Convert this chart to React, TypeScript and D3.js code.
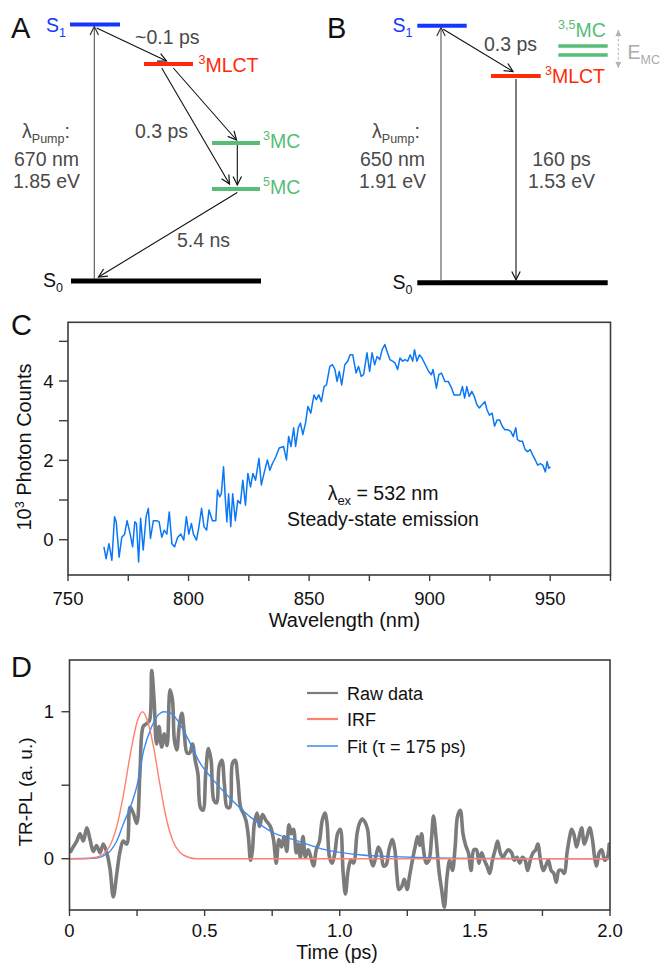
import React from "react";
import * as d3 from "d3";

// ---------- Panel C data: steady-state emission ----------
const wavelengthsC = [
  764.9, 765.8, 767, 768.2, 769.3, 770, 771.2, 772.3, 773.5, 774.5, 775.8, 776.8, 777.7, 778.4, 779.3, 780.1,
  781.2, 782.4, 783.3, 784.2, 785.4, 786.8, 787.8, 788.9, 789.9, 791, 792, 793.1, 794.2, 795.5, 796.8, 798,
  799.1, 800.1, 801.2, 802, 803.3, 804.3, 805.4, 806.4, 807.5, 808.5, 809.9, 811.3, 812, 812.9, 813.6, 814.5,
  815.2, 815.9, 816.6, 817.5, 818.3, 819.4, 820.4, 821.5, 822.5, 823.6, 824.6, 825.7, 826.7, 827.8, 829.2, 830.2,
  831.3, 832.7, 833.7, 834.8, 836.2, 837.6, 839.4, 840.6, 841.5, 842.5, 843.6, 844.4, 845.5, 846.4, 847.4, 848.5,
  849.5, 850.7, 852, 853, 854, 855.1, 856.2, 857.2, 858.6, 859.7, 860.7, 861.6, 862.5, 863.5, 864.8, 866,
  867, 868.1, 869.5, 870.5, 871.6, 872.6, 874, 875.1, 876.1, 877.2, 878.2, 879.3, 880.3, 881.4, 882.5, 883.5,
  884.6, 885.6, 886.7, 887.7, 888.8, 889.8, 890.9, 891.9, 893, 893.7, 894.7, 895.8, 896.8, 898.2, 899.6, 900.7,
  901.4, 902.8, 903.8, 904.9, 906.3, 907.7, 909.1, 910.1, 911.5, 912.6, 913.6, 914.5, 915.4, 916.4, 917.5, 918.5,
  919.6, 920.6, 921.7, 922.9, 923.8, 924.8, 925.9, 926.9, 928, 929, 930.1, 931.2, 932.6, 933.6, 934.7, 935.7,
  936.4, 937.5, 938.5, 939.6, 940.6, 941.7, 942.7, 943.8, 944.8, 945.9, 946.9, 948, 948.7, 949.4, 950.1,
];
const countsC = [
  -0.18, -0.48, -0.1, -0.52, 0.58, 0.45, -0.44, 0.06, 0.14, 0.48, 0.14, -0.18, 0.45, 0.41, -0.56, 0.54,
  -0.26, 0.58, 0.79, 0.03, 0.48, 0.48, 0.45, 0.06, 0.24, 0.14, 0.7, -0.1, -0.18, 0.06, 0.14, -0.01,
  0.58, 0.14, 0.41, 0.14, -0.01, 0.33, 0.79, 0.33, 0.24, 0.75, 0.48, 0.48, 1.25, 1.08, 1.16, 1.84,
  1.08, 0.45, 1.16, 0.33, 1.16, 0.48, 0.99, 0.91, 1.5, 0.87, 1.67, 1.33, 1.67, 1.5, 2.05, 1.38,
  1.67, 2.01, 1.75, 1.92, 2.09, 2.31, 2.35, 2.01, 2.6, 2.35, 2.82, 2.35, 2.82, 2.94, 2.65, 2.94,
  3.36, 3.19, 3.65, 3.53, 3.65, 3.48, 3.86, 3.9, 4.37, 4.41, 4.29, 3.99, 4.24, 3.9, 4.41, 4.5,
  4.66, 4.66, 4.2, 4.37, 4.12, 4.16, 4.71, 4.24, 4.71, 4.41, 4.62, 4.54, 4.79, 4.92, 4.71, 4.54,
  4.5, 4.46, 4.29, 4.58, 4.5, 4.54, 4.5, 4.66, 4.5, 4.79, 4.5, 4.66, 4.58, 4.41, 4.24, 4.16,
  4.29, 3.82, 4.16, 4.2, 3.99, 3.99, 3.82, 3.65, 3.65, 3.65, 3.86, 3.57, 3.86, 3.61, 3.74, 3.61,
  3.4, 3.32, 3.4, 3.48, 3.27, 3.14, 3.19, 2.86, 3.02, 3.02, 2.86, 2.77, 2.77, 2.73, 2.6, 2.82,
  2.52, 2.48, 2.48, 2.27, 2.22, 2.27, 2.14, 2.01, 1.88, 1.92, 1.88, 1.71, 1.97, 1.8, 1.84,
];
const xTicksC = [750, 775, 800, 825, 850, 875, 900, 925, 950, 975];
const xLabelsC = [750, 800, 850, 900, 950];
const yTicksC = [0, 1, 2, 3, 4, 5];
const yLabelsC = [0, 2, 4];

// ---------- Panel D data: TR-PL ----------
const timesD = [
  0.005, 0.014, 0.027, 0.039, 0.051, 0.064, 0.076, 0.088, 0.1, 0.113, 0.125, 0.138, 0.15, 0.162, 0.175, 0.187,
  0.199, 0.212, 0.224, 0.236, 0.249, 0.261, 0.273, 0.286, 0.296, 0.304, 0.313, 0.322, 0.331, 0.341, 0.351, 0.361,
  0.372, 0.381, 0.388, 0.397, 0.406, 0.416, 0.425, 0.435, 0.445, 0.455, 0.465, 0.475, 0.484, 0.494, 0.504, 0.514,
  0.524, 0.534, 0.544, 0.554, 0.564, 0.573, 0.583, 0.593, 0.603, 0.613, 0.623, 0.633, 0.643, 0.653, 0.662, 0.67,
  0.677, 0.684, 0.694, 0.704, 0.714, 0.727, 0.743, 0.755, 0.765, 0.775, 0.785, 0.794, 0.804, 0.812, 0.821, 0.829,
  0.839, 0.846, 0.854, 0.864, 0.873, 0.883, 0.893, 0.903, 0.913, 0.925, 0.935, 0.945, 0.953, 0.962, 0.972, 0.982,
  0.992, 1.002, 1.012, 1.021, 1.031, 1.041, 1.051, 1.064, 1.073, 1.083, 1.093, 1.103, 1.113, 1.123, 1.133, 1.143,
  1.153, 1.162, 1.172, 1.182, 1.194, 1.204, 1.212, 1.219, 1.229, 1.239, 1.249, 1.258, 1.269, 1.279, 1.288, 1.296,
  1.303, 1.31, 1.32, 1.33, 1.34, 1.347, 1.357, 1.367, 1.377, 1.387, 1.397, 1.407, 1.417, 1.427, 1.436, 1.446,
  1.456, 1.466, 1.476, 1.486, 1.496, 1.506, 1.515, 1.525, 1.535, 1.545, 1.555, 1.565, 1.575, 1.584, 1.594, 1.604,
  1.614, 1.624, 1.636, 1.646, 1.656, 1.666, 1.676, 1.686, 1.695, 1.705, 1.715, 1.725, 1.733, 1.743, 1.753, 1.762,
  1.772, 1.782, 1.792, 1.801, 1.811, 1.821, 1.831, 1.841, 1.851, 1.858, 1.866, 1.876, 1.886, 1.895, 1.905, 1.915,
  1.925, 1.935, 1.943, 1.95, 1.96, 1.97, 1.98, 1.99, 1.997,
];
const rawD = [
  0.05, 0.08, 0.12, 0.17, 0.12, 0.21, 0.13, 0.05, 0.09, 0.04, 0.1, 0.04, -0.07, -0.26, -0.1, 0.05,
  0.12, 0.1, 0.35, 0.31, 0.24, 0.6, 0.9, 0.92, 0.94, 1.28, 1.08, 0.78, 0.9, 0.76, 0.85, 0.77,
  1.15, 1.08, 0.81, 0.74, 0.9, 0.99, 0.85, 0.72, 0.72, 0.78, 0.67, 0.58, 0.35, 0.33, 0.58, 0.75,
  0.67, 0.4, 0.38, 0.63, 0.67, 0.51, 0.35, 0.35, 0.65, 0.67, 0.54, 0.35, 0.31, 0.26, 0.15, -0.01,
  0.06, 0.24, 0.31, 0.22, 0.3, 0.26, 0.22, 0.13, -0.03, 0.13, 0.08, 0.15, 0.05, 0.23, 0.17, 0.2,
  0.04, 0.1, 0.01, 0.15, 0.01, 0.06, 0.01, -0.05, 0.06, 0.12, 0.26, 0.31, 0.24, 0.01, -0.03, 0.04,
  0.17, 0.2, -0.08, -0.24, -0.08, -0.01, -0.03, 0.17, 0.24, 0.27, 0.25, 0.2, 0.01, -0.05, 0.01, 0.08,
  0.04, -0.05, -0.04, 0.06, 0.13, 0.06, -0.12, -0.21, -0.19, -0.14, -0.21, -0.12, -0.01, 0.08, 0.15, 0.09,
  0.17, 0.06, -0.03, -0.01, 0.15, 0.29, 0.13, -0.08, -0.21, -0.33, -0.12, -0.01, -0.08, 0.08, 0.29, 0.33,
  0.17, 0.09, 0.04, -0.08, 0.06, 0.06, -0.03, 0.04, -0.01, -0.05, -0.1, -0.01, 0.06, 0.12, 0.04, 0.01,
  0.04, 0.06, 0.04, -0.01, 0.01, -0.03, 0.01, -0.01, -0.08, -0.01, 0.04, 0.06, 0.1, -0.01, -0.08, -0.05,
  -0.01, -0.08, -0.1, -0.16, -0.08, -0.08, -0.1, 0.04, 0.15, 0.2, 0.17, 0.08, 0.15, 0.21, 0.1, 0.15,
  0.21, 0.13, 0.01, -0.05, 0.04, 0.06, -0.01, 0.01, 0.1,
];
const timesIRF = [0, 0.05, 0.1, 0.125, 0.15, 0.175, 0.2, 0.225, 0.25, 0.27, 0.29, 0.31, 0.335, 0.36, 0.385, 0.41, 0.44, 0.47, 0.5, 1.0, 1.5, 2.0];
const valuesIRF = [0, 0, 0.01, 0.03, 0.09, 0.22, 0.44, 0.71, 0.93, 1.0, 0.93, 0.77, 0.5, 0.26, 0.11, 0.04, 0.01, 0, 0, 0, 0, 0];
const timesFit = [0, 0.05, 0.1, 0.125, 0.15, 0.175, 0.2, 0.225, 0.25, 0.275, 0.3, 0.325, 0.35, 0.375, 0.4, 0.44, 0.48, 0.53, 0.59, 0.64, 0.7, 0.75, 0.83, 0.95, 1.08, 1.2, 1.32, 1.5, 2.0];
const valuesFit = [0, 0.001, 0.005, 0.02, 0.05, 0.12, 0.24, 0.35, 0.5, 0.74, 0.88, 0.97, 1.0, 0.99, 0.94, 0.81, 0.66, 0.54, 0.42, 0.33, 0.24, 0.18, 0.13, 0.06, 0.025, 0.014, 0.007, 0.002, 0];
const xTicksD = [0, 0.25, 0.5, 0.75, 1.0, 1.25, 1.5, 1.75, 2.0];
const xLabelsD = ["0", "0.5", "1.0", "1.5", "2.0"];
const xLabelValsD = [0, 0.5, 1.0, 1.5, 2.0];
const yTicksD = [0, 0.5, 1];
const yLabelsD = [0, 1];
const legendD = ["Raw data", "IRF", "Fit (τ = 175 ps)"];

const FONT = "'Liberation Sans', Arial, Helvetica, sans-serif";
const BLUE = "#1436ff";
const RED = "#ff2a0a";
const GREEN = "#57bd78";
const GREY_TXT = "#4a4a4a";
const AX = "#3c3c3c";
const C_LINE = "#0a78f5";
const RAW = "#7b7b7b";
const IRF_C = "#ff8070";
const FIT_C = "#3d8af0";

function Superscripted({ x, y, sup, main, color, size = 19.5, supSize = 12.5, supDy = -8 }) {
  return (
    <text x={x} y={y} fill={color} fontSize={size} fontFamily={FONT}>
      <tspan fontSize={supSize} dy={supDy}>{sup}</tspan>
      <tspan dy={-supDy}>{main}</tspan>
    </text>
  );
}

function Subscripted({ x, y, main, sub, color, size = 19.5, subSize = 12.5, subDy = 5, anchor = "start", tail = "" }) {
  return (
    <text x={x} y={y} fill={color} fontSize={size} fontFamily={FONT} textAnchor={anchor}>
      <tspan>{main}</tspan>
      <tspan fontSize={subSize} dy={subDy}>{sub}</tspan>
      {tail ? <tspan dy={-subDy}>{tail}</tspan> : null}
    </text>
  );
}

function Bar({ x1, x2, y, color, w = 4 }) {
  return <line x1={x1} x2={x2} y1={y} y2={y} stroke={color} strokeWidth={w} />;
}

function Arrow({ x1, y1, x2, y2, color = "#111", marker = "ah" }) {
  return <line x1={x1} y1={y1} x2={x2} y2={y2} stroke={color} strokeWidth={1.1} markerEnd={`url(#${marker})`} />;
}

function PanelA() {
  return (
    <g>
      <text x={11} y={38} fontSize={29} fontFamily={FONT} fill="#111">A</text>
      <Subscripted x={46} y={31.5} main="S" sub="1" color={BLUE} />
      <Bar x1={70} x2={120} y={24.5} color={BLUE} />
      <Bar x1={144} x2={193} y={64} color={RED} />
      <Superscripted x={198.5} y={72} sup="3" main="MLCT" color={RED} />
      <Bar x1={212} x2={260} y={143} color={GREEN} />
      <Superscripted x={263} y={148} sup="3" main="MC" color={GREEN} />
      <Bar x1={212} x2={260} y={189} color={GREEN} />
      <Superscripted x={263} y={194} sup="5" main="MC" color={GREEN} />
      <Bar x1={71} x2={261} y={281} color="#000" w={5} />
      <Subscripted x={43} y={287} main="S" sub="0" color="#111" />

      <Arrow x1={94.3} y1={279} x2={94.3} y2={26.5} color="#555" marker="ahg" />
      <Arrow x1={96.7} y1={28} x2={166.5} y2={61} />
      <Arrow x1={161.7} y1={68} x2={229.5} y2={184} />
      <Arrow x1={173.3} y1={68} x2={236.5} y2={140} />
      <Arrow x1={237.3} y1={145} x2={237.3} y2={185} />
      <Arrow x1={237.3} y1={192.5} x2={98.5} y2={277} />

      <text x={135} y={43.5} fontSize={19.5} fontFamily={FONT} fill={GREY_TXT}>~0.1 ps</text>
      <text x={135} y={137.5} fontSize={19.5} fontFamily={FONT} fill={GREY_TXT}>0.3 ps</text>
      <text x={177} y={247} fontSize={19.5} fontFamily={FONT} fill={GREY_TXT}>5.4 ns</text>

      <Subscripted x={46} y={138} main="λ" sub="Pump" tail=":" color={GREY_TXT} anchor="middle" />
      <text x={46.5} y={165.5} fontSize={19.5} fontFamily={FONT} fill={GREY_TXT} textAnchor="middle">670 nm</text>
      <text x={46.5} y={188} fontSize={19.5} fontFamily={FONT} fill={GREY_TXT} textAnchor="middle">1.85 eV</text>
    </g>
  );
}

function PanelB() {
  return (
    <g>
      <text x={327} y={38} fontSize={29} fontFamily={FONT} fill="#111">B</text>
      <Subscripted x={392.5} y={32} main="S" sub="1" color={BLUE} />
      <Bar x1={417.3} x2={466.7} y={25.7} color={BLUE} />
      <Bar x1={491} x2={540.7} y={76} color={RED} />
      <Superscripted x={545} y={83} sup="3" main="MLCT" color={RED} />
      <Bar x1={558.3} x2={607.7} y={46} color={GREEN} w={3.6} />
      <Bar x1={558.3} x2={607.7} y={55} color={GREEN} w={3.6} />
      <Superscripted x={558} y={37} sup="3,5" main="MC" color={GREEN} />
      <line x1={618.3} x2={618.3} y1={30} y2={68} stroke="#b3b3b3" strokeWidth={1} strokeDasharray="2.5,2" markerEnd="url(#ahl)" markerStart="url(#ahls)" />
      <Subscripted x={627.5} y={58.5} main="E" sub="MC" color="#ababab" subSize={12.5} subDy={5} />
      <Bar x1={417.3} x2={607.7} y={282.7} color="#000" w={5} />
      <Subscripted x={392.5} y={288.5} main="S" sub="0" color="#111" />

      <Arrow x1={441} y1={281} x2={441} y2={27.5} color="#555" marker="ahg" />
      <Arrow x1={443.3} y1={29.3} x2={513} y2={71.5} />
      <Arrow x1={516} y1={79} x2={516} y2={280} />

      <text x={484} y={50.5} fontSize={19.5} fontFamily={FONT} fill={GREY_TXT}>0.3 ps</text>
      <text x={561.5} y={165.5} fontSize={19.5} fontFamily={FONT} fill={GREY_TXT} textAnchor="middle">160 ps</text>
      <text x={561.5} y={188} fontSize={19.5} fontFamily={FONT} fill={GREY_TXT} textAnchor="middle">1.53 eV</text>

      <Subscripted x={396} y={138} main="λ" sub="Pump" tail=":" color={GREY_TXT} anchor="middle" />
      <text x={392.5} y={165.5} fontSize={19.5} fontFamily={FONT} fill={GREY_TXT} textAnchor="middle">650 nm</text>
      <text x={392.5} y={188} fontSize={19.5} fontFamily={FONT} fill={GREY_TXT} textAnchor="middle">1.91 eV</text>
    </g>
  );
}

function PanelC() {
  const x = d3.scaleLinear().domain([750, 975]).range([68, 610.5]);
  const y = d3.scaleLinear().domain([-0.89, 5.48]).range([575, 322.3]);
  const pts = wavelengthsC.map((w, i) => [w, countsC[i]]);
  const line = d3.line().x((d) => x(d[0])).y((d) => y(d[1]));
  const [x0, x1] = x.range();
  const [yb, yt] = y.range();
  return (
    <g fontFamily={FONT}>
      <text x={11} y={335} fontSize={29} fill="#111">C</text>
      <path d={line(pts)} fill="none" stroke={C_LINE} strokeWidth={1.5} strokeLinejoin="round" />
      <rect x={x0} y={yt} width={x1 - x0} height={yb - yt} fill="none" stroke={AX} strokeWidth={1.6} />
      {xTicksC.map((t) => (
        <line key={t} x1={x(t)} x2={x(t)} y1={yb} y2={yb + 6} stroke={AX} strokeWidth={1.4} />
      ))}
      {xLabelsC.map((t) => (
        <text key={t} x={x(t)} y={605} fontSize={18.5} textAnchor="middle" fill="#111">{t}</text>
      ))}
      {yTicksC.map((t) => (
        <line key={t} x1={x0 - 9} x2={x0} y1={y(t)} y2={y(t)} stroke={AX} strokeWidth={1.4} />
      ))}
      {yLabelsC.map((t) => (
        <text key={t} x={53.5} y={y(t) + 6.5} fontSize={18.5} textAnchor="end" fill="#111">{t}</text>
      ))}
      <text transform="translate(31,447) rotate(-90)" fontSize={20} textAnchor="middle" fill="#111">
        <tspan>10</tspan>
        <tspan fontSize={12.5} dy={-7}>3</tspan>
        <tspan dy={7}> Photon Counts</tspan>
      </text>
      <text x={344.5} y={627} fontSize={20} textAnchor="middle" fill="#111">Wavelength (nm)</text>
      <text x={383} y={500} fontSize={19.5} textAnchor="middle" fill="#111">
        <tspan>λ</tspan>
        <tspan fontSize={13} dy={5}>ex</tspan>
        <tspan dy={-5}> = 532 nm</tspan>
      </text>
      <text x={383} y={525.5} fontSize={19.5} textAnchor="middle" fill="#111">Steady-state emission</text>
    </g>
  );
}

function PanelD() {
  const x = d3.scaleLinear().domain([0, 2]).range([69.5, 610]);
  const y = d3.scaleLinear().domain([-0.349, 1.352]).range([910, 660]);
  const [x0, x1] = x.range();
  const [yb, yt] = y.range();
  const rawPts = timesD.map((t, i) => [t, rawD[i]]);
  const irfPts = timesIRF.map((t, i) => [t, valuesIRF[i]]);
  const fitPts = timesFit.map((t, i) => [t, valuesFit[i]]);
  const rawLine = d3.line().x((d) => x(d[0])).y((d) => y(d[1])).curve(d3.curveCatmullRom.alpha(0.5));
  const smooth = d3.line().x((d) => x(d[0])).y((d) => y(d[1])).curve(d3.curveMonotoneX);
  const legColors = [RAW, IRF_C, FIT_C];
  const legWidths = [2.2, 2.2, 1.5];
  const legY = [693, 719, 746];
  return (
    <g fontFamily={FONT}>
      <text x={11} y={677} fontSize={29} fill="#111">D</text>
      <defs>
        <clipPath id="clipD">
          <rect x={x0} y={yt} width={x1 - x0} height={yb - yt} />
        </clipPath>
      </defs>
      <g clipPath="url(#clipD)">
        <path d={rawLine(rawPts)} fill="none" stroke={RAW} strokeWidth={3.6} strokeLinejoin="round" strokeLinecap="round" />
        <path d={smooth(fitPts)} fill="none" stroke={FIT_C} strokeWidth={1.4} />
        <path d={smooth(irfPts)} fill="none" stroke={IRF_C} strokeWidth={1.4} />
      </g>
      <rect x={x0} y={yt} width={x1 - x0} height={yb - yt} fill="none" stroke={AX} strokeWidth={1.6} />
      {xTicksD.map((t) => (
        <line key={t} x1={x(t)} x2={x(t)} y1={yb} y2={yb + 6} stroke={AX} strokeWidth={1.4} />
      ))}
      {xLabelValsD.map((t, i) => (
        <text key={t} x={x(t)} y={937} fontSize={18.5} textAnchor="middle" fill="#111">{xLabelsD[i]}</text>
      ))}
      {yTicksD.map((t) => (
        <line key={t} x1={x0 - 8} x2={x0} y1={y(t)} y2={y(t)} stroke={AX} strokeWidth={1.4} />
      ))}
      {yLabelsD.map((t) => (
        <text key={t} x={54} y={y(t) + 6.5} fontSize={18.5} textAnchor="end" fill="#111">{t}</text>
      ))}
      <text transform="translate(31.5,792) rotate(-90)" fontSize={19} textAnchor="middle" fill="#111">TR-PL (a. u.)</text>
      <text x={337} y={959} fontSize={19.5} textAnchor="middle" fill="#111">Time (ps)</text>
      {legendD.map((l, i) => (
        <g key={l}>
          <line x1={307} x2={338} y1={legY[i]} y2={legY[i]} stroke={legColors[i]} strokeWidth={legWidths[i]} />
          <text x={347} y={legY[i] + 6.5} fontSize={18} fill="#111">{l}</text>
        </g>
      ))}
    </g>
  );
}

export default function App() {
  return (
    <div style={{ position: "absolute", left: 0, top: 0 }}>
      <svg width={663} height={967} viewBox="0 0 663 967" style={{ display: "block", background: "#fff" }}>
        <defs>
          <marker id="ah" markerUnits="userSpaceOnUse" markerWidth={12} markerHeight={12} refX={9} refY={5} orient="auto" viewBox="0 0 12 10">
            <path d="M0.5,0.8 L9,5 L0.5,9.2" fill="none" stroke="#111" strokeWidth={1.2} />
          </marker>
          <marker id="ahg" markerUnits="userSpaceOnUse" markerWidth={12} markerHeight={12} refX={9} refY={5} orient="auto" viewBox="0 0 12 10">
            <path d="M0.5,0.8 L9,5 L0.5,9.2" fill="none" stroke="#333" strokeWidth={1.2} />
          </marker>
          <marker id="ahl" markerUnits="userSpaceOnUse" markerWidth={8} markerHeight={8} refX={6} refY={3} orient="auto" viewBox="0 0 8 6">
            <path d="M0,0 L6,3 L0,6 Z" fill="#b3b3b3" />
          </marker>
          <marker id="ahls" markerUnits="userSpaceOnUse" markerWidth={8} markerHeight={8} refX={0} refY={3} orient="auto" viewBox="0 0 8 6">
            <path d="M6,0 L0,3 L6,6 Z" fill="#b3b3b3" />
          </marker>
        </defs>
        <PanelA />
        <PanelB />
        <PanelC />
        <PanelD />
      </svg>
    </div>
  );
}
